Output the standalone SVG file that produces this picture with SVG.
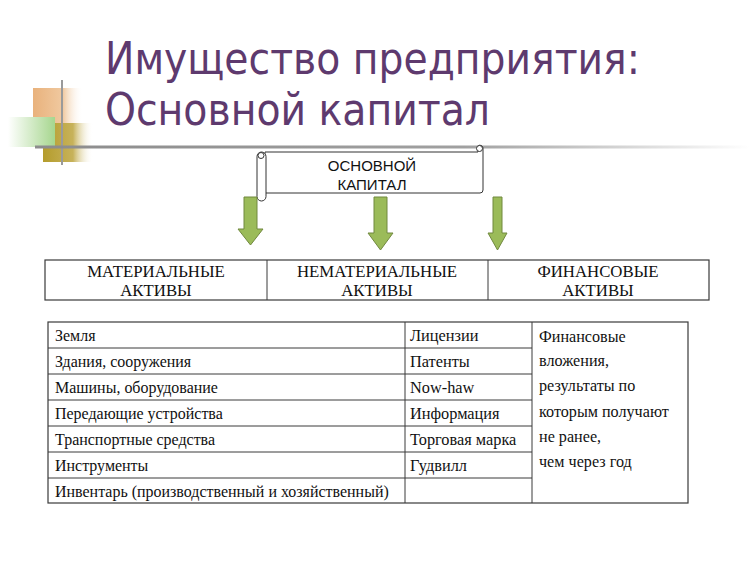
<svg xmlns="http://www.w3.org/2000/svg" width="750" height="561" viewBox="0 0 750 561">
<defs>
<linearGradient id="gOrange" x1="0" y1="0" x2="1" y2="0"><stop offset="0" stop-color="#e9b27c"/><stop offset="0.6" stop-color="#f0c9a0"/><stop offset="1" stop-color="#ffffff" stop-opacity="0"/></linearGradient>
<linearGradient id="gGreen" x1="0" y1="0" x2="1" y2="0"><stop offset="0" stop-color="#ffffff"/><stop offset="1" stop-color="#a6d68e"/></linearGradient>
<linearGradient id="gOlive" x1="0" y1="0" x2="1" y2="0"><stop offset="0" stop-color="#b49c2c"/><stop offset="0.6" stop-color="#c7b25a"/><stop offset="1" stop-color="#ffffff" stop-opacity="0"/></linearGradient>
<linearGradient id="gLine" gradientUnits="userSpaceOnUse" x1="35" y1="0" x2="750" y2="0"><stop offset="0" stop-color="#8c8c8c"/><stop offset="0.6" stop-color="#a0a0a0"/><stop offset="1" stop-color="#ffffff"/></linearGradient>
<style>
.title{font-family:"DejaVu Sans Condensed","DejaVu Sans",sans-serif;fill:#5e3a6e;font-size:45px}
.arrow{fill:#9bbb59;stroke:#71893f;stroke-width:1}
.scroll{fill:#ffffff;stroke:#333333;stroke-width:1}
.sans{font-family:"Liberation Sans",Arial,sans-serif;font-size:15px;fill:#111111;text-anchor:middle}
.hdr{font-family:"Liberation Serif","Times New Roman",serif;font-size:16.8px;fill:#111111;text-anchor:middle}
.cell{font-family:"Liberation Serif","Times New Roman",serif;font-size:17px;fill:#111111}
.box{fill:#ffffff;stroke:#3a3a3a;stroke-width:1.2}
.grid{stroke:#3a3a3a;stroke-width:1;fill:none}
</style>
</defs>
<rect width="750" height="561" fill="#ffffff"/>
<g id="decoration">
<rect x="33" y="88" width="50" height="36" fill="url(#gOrange)"/>
<rect x="43" y="123" width="50" height="39" fill="url(#gOlive)"/>
<rect x="8" y="117" width="47" height="30" fill="url(#gGreen)"/>
<line x1="62" y1="80" x2="62" y2="165" stroke="#9a9a9a" stroke-width="2"/>
<line x1="35" y1="147" x2="750" y2="147" stroke="url(#gLine)" stroke-width="3"/>
</g>
<g id="title">
<text class="title" x="105" y="74" textLength="535" lengthAdjust="spacingAndGlyphs">Имущество предприятия:</text>
<text class="title" x="105" y="125" textLength="385" lengthAdjust="spacingAndGlyphs">Основной капитал</text>
</g>
<g id="node-osnovnoy">
<path class="scroll" d="M265,152 L478,152 L478,146 A3,3 0 0 1 483,148 L483,190 Q483,193 480,193 L265,193 Z"/>
<rect class="scroll" x="257" y="152" width="9" height="49" rx="4.5"/>
<circle class="scroll" cx="261" cy="155.5" r="3"/>
<circle class="scroll" cx="479.5" cy="148.5" r="3"/>
<text class="sans" x="372" y="171">ОСНОВНОЙ</text>
<text class="sans" x="372" y="190">КАПИТАЛ</text>
</g>
<g id="connectors">
<path class="arrow" d="M244,197 L257,197 L257,229 L263,229 L250.5,245 L238,229 L244,229 Z"/>
<path class="arrow" d="M374,197 L387,197 L387,233 L393,233 L380.5,250 L368,233 L374,233 Z"/>
<path class="arrow" d="M493,197 L502,197 L502,233 L507,233 L497.5,250 L488,233 L493,233 Z"/>
</g>
<g id="node-headers">
<rect class="box" x="45" y="260" width="664" height="40"/>
<line class="grid" x1="267" y1="260" x2="267" y2="300"/>
<line class="grid" x1="488" y1="260" x2="488" y2="300"/>
<text class="hdr" x="156" y="277">МАТЕРИАЛЬНЫЕ</text>
<text class="hdr" x="156" y="296">АКТИВЫ</text>
<text class="hdr" x="377" y="277">НЕМАТЕРИАЛЬНЫЕ</text>
<text class="hdr" x="377" y="296">АКТИВЫ</text>
<text class="hdr" x="598" y="277">ФИНАНСОВЫЕ</text>
<text class="hdr" x="598" y="296">АКТИВЫ</text>
</g>
<g id="node-table">
<rect class="box" x="48" y="322" width="640" height="181"/>
<line class="grid" x1="405" y1="322" x2="405" y2="503"/>
<line class="grid" x1="532" y1="322" x2="532" y2="503"/>
<path class="grid" d="M48,348H532M48,374H532M48,400H532M48,426H532M48,452H532M48,478H532"/>
<g transform="translate(55 0) scale(0.94 1)">
<text class="cell" x="0" y="341">Земля</text>
<text class="cell" x="0" y="367">Здания, сооружения</text>
<text class="cell" x="0" y="393">Машины, оборудование</text>
<text class="cell" x="0" y="419">Передающие устройства</text>
<text class="cell" x="0" y="445">Транспортные средства</text>
<text class="cell" x="0" y="471">Инструменты</text>
<text class="cell" x="0" y="497">Инвентарь (производственный и хозяйственный)</text>
</g>
<g transform="translate(410 0) scale(0.96 1)">
<text class="cell" x="0" y="341">Лицензии</text>
<text class="cell" x="0" y="367">Патенты</text>
<text class="cell" x="0" y="393">Now-haw</text>
<text class="cell" x="0" y="419">Информация</text>
<text class="cell" x="0" y="445">Торговая марка</text>
<text class="cell" x="0" y="471">Гудвилл</text>
</g>
<g transform="translate(539 0) scale(0.95 1)">
<text class="cell" x="0" y="342">Финансовые</text>
<text class="cell" x="0" y="366">вложения,</text>
<text class="cell" x="0" y="391">результаты по</text>
<text class="cell" x="0" y="417">которым получают</text>
<text class="cell" x="0" y="442">не ранее,</text>
<text class="cell" x="0" y="467">чем через год</text>
</g>
</g>
</svg>
